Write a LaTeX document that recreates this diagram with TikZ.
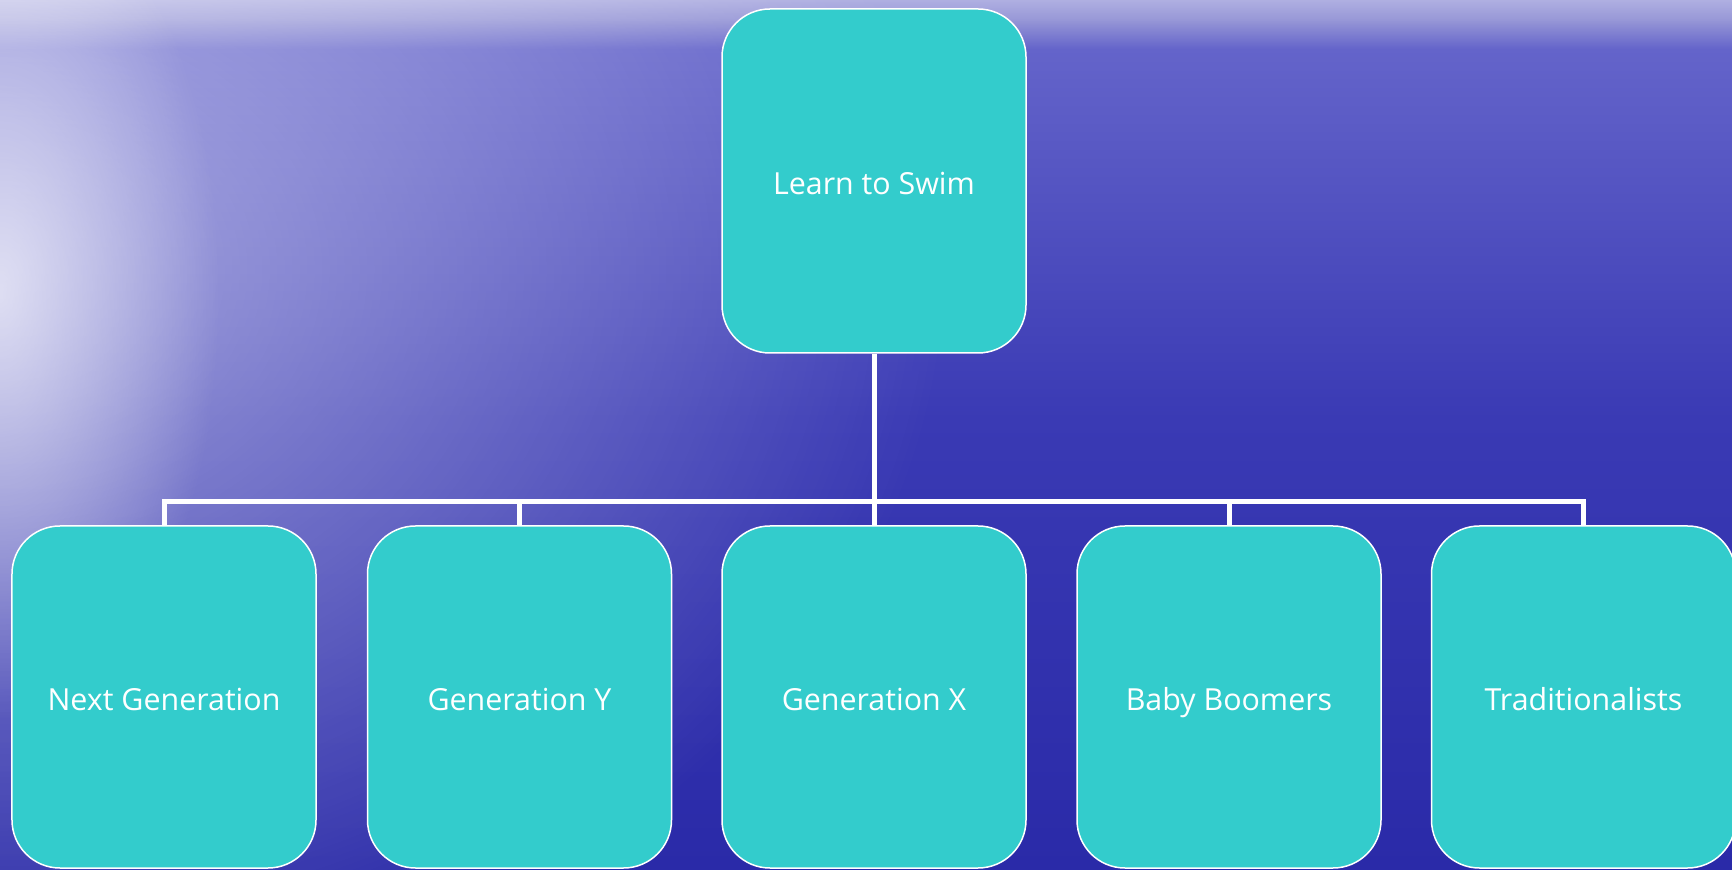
\documentclass[tikz,border=0pt]{standalone}
\usepackage{fontspec}
\setmainfont{Open Sans}
\usetikzlibrary{fadings}
\definecolor{boxfill}{RGB}{51,204,204}
\definecolor{seadeep}{RGB}{42,42,168}
\definecolor{sealow}{RGB}{58,58,180}
\definecolor{seamid}{RGB}{86,86,196}
\definecolor{seahigh}{RGB}{100,100,202}
\definecolor{hazelow}{RGB}{150,150,214}
\definecolor{haze}{RGB}{176,176,226}
\tikzfading[name=glowfade, inner color=transparent!35, outer color=transparent!100]
\tikzfading[name=softglow, inner color=transparent!50, outer color=transparent!100]
\begin{document}
\begin{tikzpicture}[x=1bp,y=1bp,
  genbox/.style={draw=white, line width=1.5bp, fill=boxfill, rounded corners=48bp,
    minimum width=304bp, minimum height=342bp, text=white,
    font=\fontsize{30.5}{36}\selectfont, inner sep=0pt,
    text height=27bp, text depth=0bp},
  link/.style={draw=white, line width=5bp}]
\useasboundingbox (0,0) rectangle (1732,869);
\begin{scope}
  \clip (0,0) rectangle (1732,869);
  \shade[top color=sealow, bottom color=seadeep] (0,-1) rectangle (1732,451);
  \shade[top color=seahigh, bottom color=sealow] (0,450) rectangle (1732,821);
  \shade[top color=hazelow, bottom color=seahigh] (0,820) rectangle (1732,849);
  \shade[top color=haze, bottom color=hazelow] (0,848) rectangle (1732,870);
  \fill[white, path fading=softglow] (-950,-150) rectangle (950,1350);
  \fill[white, path fading=glowfade] (-220,150) rectangle (220,1000);
\end{scope}
\node[genbox, minimum height=344bp] (root) at (874,688) {Learn to Swim};
\node[genbox] (nextgen) at (164,172) {Next Generation};
\node[genbox] (geny) at (519.5,172) {Generation Y};
\node[genbox] (genx) at (874,172) {Generation X};
\node[genbox] (boomers) at (1229,172) {Baby Boomers};
\node[genbox] (trad) at (1583.5,172) {Traditionalists};
\coordinate (bus) at (874,367);
\draw[link] (root.south) -- (bus);
\foreach \n in {nextgen,geny,genx,boomers,trad}
  \draw[link] (\n.north) |- (bus);
\end{tikzpicture}
\end{document}
